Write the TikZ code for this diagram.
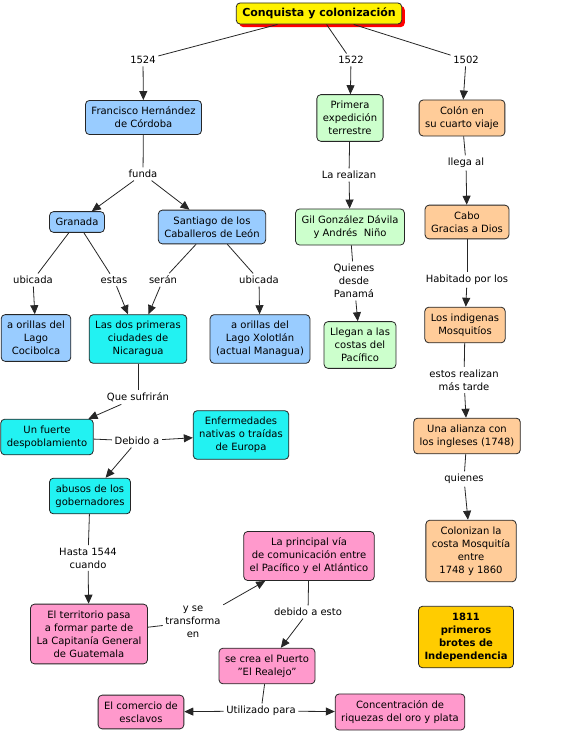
\documentclass[tikz,border=0pt]{standalone}
\usepackage{fontspec}
\setmainfont{DejaVu Sans}
\usetikzlibrary{arrows.meta,shadows}

\definecolor{azul}{HTML}{99CCFF}
\definecolor{celeste}{HTML}{22F2F2}
\definecolor{verde}{HTML}{CCFFCC}
\definecolor{durazno}{HTML}{FFCC99}
\definecolor{rosa}{HTML}{FF99CC}
\definecolor{oro}{HTML}{FFCC00}
\definecolor{borde}{HTML}{262626}

\begin{document}
\begin{tikzpicture}[
        x=1pt, y=-1pt,
        >={Triangle[length=9pt,width=8pt]},
        every node/.style={font=\fontsize{10}{13}\selectfont, align=center},
        box/.style={draw=borde, line width=0.8pt, rounded corners=4pt, inner xsep=6pt, inner ysep=6.5pt},
        lbl/.style={inner sep=2.5pt},
        link/.style={draw=borde, line width=0.8pt},
        ]
        \useasboundingbox (0,0) rectangle (567,733);

        % Title
        \node (title) [box, fill=yellow, inner ysep=5pt, font=\fontsize{11}{13}\selectfont\bfseries,
            drop shadow={fill=red, opacity=1, shadow xshift=3pt, shadow yshift=-3pt}] at (319,13.5) {Conquista y colonización};

        % Years
        \node (y1524) [lbl] at (143,60) {1524};
        \node (y1522) [lbl] at (351,60) {1522};
        \node (y1502) [lbl] at (466,60) {1502};

        % Nodes
        \node (hernandez)    [box, fill=azul]    at (143.5,117.5) {Francisco Hernández\\de Córdoba};
        \node (expedicion)   [box, fill=verde]   at (350,118)   {Primera\\expedición\\terrestre};
        \node (colon)        [box, fill=durazno] at (462,118)   {Colón en\\su cuarto viaje};
        \node (granada)      [box, fill=azul]    at (77,222)    {Granada};
        \node (santiago)     [box, fill=azul]    at (212,227)   {Santiago de los\\Caballeros de León};
        \node (gil)          [box, fill=verde]   at (350,227)   {Gil González Dávila\\y Andrés\ \ Niño};
        \node (cabo)         [box, fill=durazno] at (467,222)   {Cabo\\Gracias a Dios};
        \node (cocibolca)    [box, fill=azul]    at (36,338)    {a orillas del\\Lago\\Cocibolca};
        \node (ciudades)     [box, fill=celeste] at (138,339)   {Las dos primeras\\ciudades de\\Nicaragua};
        \node (xolotlan)     [box, fill=azul]    at (260,339)   {a orillas del\\Lago Xolotlán\\(actual Managua)};
        \node (llegan)       [box, fill=verde]   at (360,345)   {Llegan a las\\costas del\\Pacífico};
        \node (mosquitos)    [box, fill=durazno] at (465,325)   {Los indigenas\\Mosquitíos};
        \node (fuerte)       [box, fill=celeste] at (47,437)    {Un fuerte\\despoblamiento};
        \node (enfermedades) [box, fill=celeste] at (241,435)   {Enfermedades\\nativas o traídas\\de Europa};
        \node (alianza)      [box, fill=durazno] at (467,436)   {Una alianza con\\los ingleses (1748)};
        \node (abusos)       [box, fill=celeste] at (90,496)    {abusos de los\\gobernadores};
        \node (colonizan)    [box, fill=durazno] at (471,551)   {Colonizan la\\costa Mosquitía\\entre\\1748 y 1860};
        \node (principal)    [box, fill=rosa]    at (309,556)   {La principal vía\\de comunicación entre\\el Pacífico y el Atlántico};
        \node (territorio)   [box, fill=rosa]    at (89,634)    {El territorio pasa\\a formar parte de\\La Capitanía General\\de Guatemala};
        \node (brotes)       [box, fill=oro, font=\fontsize{10}{13}\selectfont\bfseries] at (466,637) {1811\\primeros\\brotes de\\Independencia};
        \node (puerto)       [box, fill=rosa]    at (267,666)   {se crea el Puerto\\"El Realejo"};
        \node (comercio)     [box, fill=rosa]    at (141,712)   {El comercio de\\esclavos};
        \node (riquezas)     [box, fill=rosa]    at (400,712)   {Concentración de\\riquezas del oro y plata};

        % Link labels
        \node (funda)    [lbl] at (143,174) {funda};
        \node (realizan) [lbl] at (349,175) {La realizan};
        \node (llega)    [lbl] at (466,163) {llega al};
        \node (ubicadaA) [lbl] at (33,280)  {ubicada};
        \node (estas)    [lbl] at (114,280) {estas};
        \node (seran)    [lbl] at (163,280) {serán};
        \node (ubicadaB) [lbl] at (259,280) {ubicada};
        \node (desde)    [lbl] at (354,281) {Quienes\\desde\\Panamá};
        \node (habitado) [lbl] at (467,280) {Habitado por los};
        \node (tarde)    [lbl] at (464,380) {estos realizan\\más tarde};
        \node (sufriran) [lbl] at (138,397) {Que sufrirán};
        \node (debido)   [lbl] at (137,441) {Debido a};
        \node (quienes)  [lbl] at (464,479) {quienes};
        \node (hasta)    [lbl] at (88,558)  {Hasta 1544\\cuando};
        \node (esto)     [lbl] at (308,612) {debido a esto};
        \node (transf)   [lbl] at (193,622) {y se\\transforma\\en};
        \node (utilizado)[lbl] at (261,711) {Utilizado para};

        % Plain lines
        \path[link] (title) -- (y1524);
        \path[link] (title) -- (y1522);
        \path[link] (title) -- (y1502);
        \path[link] (hernandez) -- (funda);
        \path[link] (expedicion) -- (realizan);
        \path[link] (colon) -- (llega);
        \path[link] (granada) -- (ubicadaA);
        \path[link] (granada) -- (estas);
        \path[link] (santiago) -- (seran);
        \path[link] (santiago) -- (ubicadaB);
        \path[link] (gil) -- (desde);
        \path[link] (cabo) -- (habitado);
        \path[link] (mosquitos) -- (tarde);
        \path[link] (ciudades) -- (sufriran);
        \path[link] (fuerte) -- (debido);
        \path[link] (alianza) -- (quienes);
        \path[link] (abusos) -- (hasta);
        \path[link] (principal) -- (esto);
        \path[link] (territorio) -- (transf);
        \path[link] (puerto) -- (utilizado);

        % Arrows
        \path[link, ->] (y1524) -- (hernandez);
        \path[link, ->] (y1522) -- (expedicion);
        \path[link, ->] (y1502) -- (colon);
        \path[link, ->] (funda) -- (granada);
        \path[link, ->] (funda) -- (santiago);
        \path[link, ->] (realizan) -- (gil);
        \path[link, ->] (llega) -- (cabo);
        \path[link, ->] (ubicadaA) -- (cocibolca);
        \path[link, ->] (estas) -- (ciudades);
        \path[link, ->] (seran) -- (ciudades);
        \path[link, ->] (ubicadaB) -- (xolotlan);
        \path[link, ->] (desde) -- (llegan);
        \path[link, ->] (habitado) -- (mosquitos);
        \path[link, ->] (tarde) -- (alianza);
        \path[link, ->] (sufriran) -- (fuerte);
        \path[link, ->] (debido) -- (enfermedades);
        \path[link, ->] (debido) -- (abusos);
        \path[link, ->] (quienes) -- (colonizan);
        \path[link, ->] (hasta) -- (territorio);
        \path[link, ->] (esto) -- (puerto);
        \path[link, ->] (transf) -- (principal);
        \path[link, ->] (utilizado) -- (comercio);
        \path[link, ->] (utilizado) -- (riquezas);
      \end{tikzpicture}
\end{document}
